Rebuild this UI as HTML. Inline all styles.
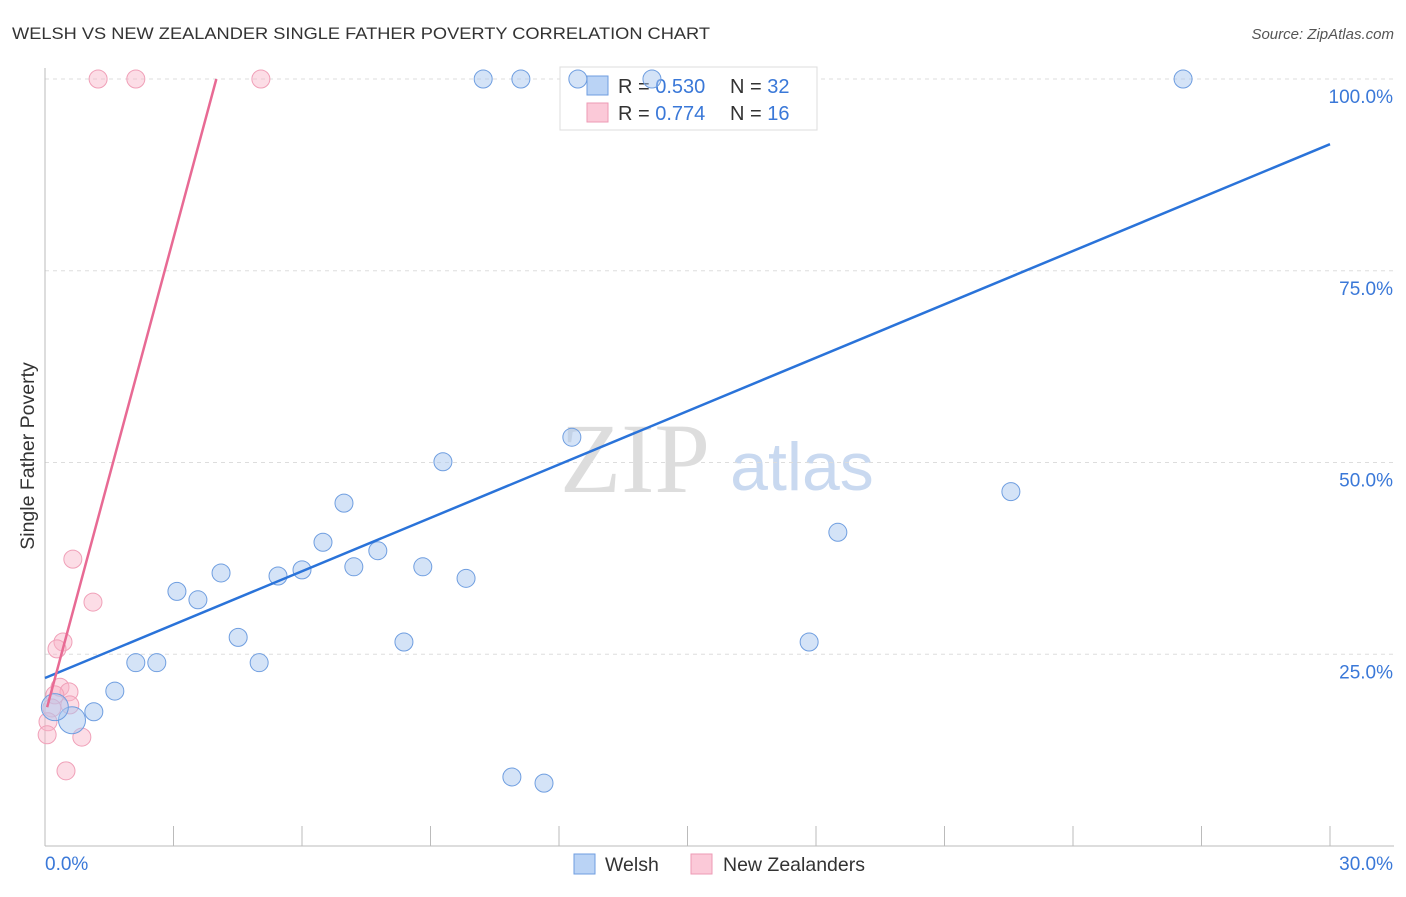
<!DOCTYPE html>
<html><head><meta charset="utf-8"><style>
body{margin:0;background:#fff;font-family:"Liberation Sans",sans-serif}
</style></head><body>
<svg id="c" width="1406" height="892" font-family="Liberation Sans, sans-serif">
<text x="12" y="39" font-size="17" fill="#333" textLength="698" lengthAdjust="spacingAndGlyphs">WELSH VS NEW ZEALANDER SINGLE FATHER POVERTY CORRELATION CHART</text>
<text x="1394" y="39" font-size="15" fill="#555" text-anchor="end" font-style="italic">Source: ZipAtlas.com</text>
<text x="635" y="492" font-size="100" fill="#ddd" text-anchor="middle" font-family="Liberation Serif, serif">ZIP</text>
<text x="802" y="490" font-size="68" fill="#c9d9f0" text-anchor="middle">atlas</text>
<text transform="translate(34,456) rotate(-90)" font-size="19.5" fill="#333" text-anchor="middle">Single Father Poverty</text>
<g id="grid"></g>
<g>
<rect x="560" y="67" width="257" height="63" fill="#fff" stroke="#ddd"/>
<rect x="587" y="76" width="21" height="19" fill="#bad3f5" stroke="#6f9ee0"/>
<rect x="587" y="103" width="21" height="19" fill="#fbc9d8" stroke="#ee9ab5"/>
<text x="618" y="93" font-size="20" fill="#333">R = <tspan fill="#3a78d8">0.530</tspan></text>
<text x="730" y="93" font-size="20" fill="#333">N = <tspan fill="#3a78d8">32</tspan></text>
<text x="618" y="120" font-size="20" fill="#333">R = <tspan fill="#3a78d8"> 0.774</tspan></text>
<text x="730" y="120" font-size="20" fill="#333">N = <tspan fill="#3a78d8"> 16</tspan></text>
</g>
<g id="marks"></g>
<g>
<rect x="574" y="854" width="21" height="20" fill="#bad3f5" stroke="#6f9ee0"/>
<text x="605" y="871" font-size="19.5" fill="#333">Welsh</text>
<rect x="691" y="854" width="21" height="20" fill="#fbc9d8" stroke="#ee9ab5"/>
<text x="723" y="871" font-size="19.5" fill="#333">New Zealanders</text>
</g>
</svg>
<script>
const yTicks=[25,50,75,100];
const xTickLabels=["0.0%","30.0%"];
const welshX=[10.23,11.11,12.44,14.17,26.57,12.30,9.29,22.55,6.98,18.51,6.49,7.77,7.21,8.82,4.11,6.00,5.44,9.83,3.08,3.57,4.51,8.38,17.84,2.12,2.61,5.00,1.63,1.14,0.63,0.23,10.90,11.65];
const welshY=[100,100,100,100,100,53.3,50.1,46.2,44.7,40.9,39.6,38.5,36.4,36.4,35.6,36.0,35.2,34.9,33.2,32.1,27.2,26.6,26.6,23.9,23.9,23.9,20.2,17.5,16.4,18.1,9.0,8.2];
const welshBig=[28,29];
const nzX=[1.24,2.12,5.04,0.65,1.12,0.42,0.28,0.35,0.56,0.23,0.58,0.16,0.07,0.86,0.05,0.49];
const nzY=[100,100,100,37.4,31.8,26.6,25.7,20.7,20.1,19.7,18.4,18.0,16.2,14.2,14.5,9.8];
const welshLine=[[0,21.9],[30,91.5]];
const nzLine=[[0.05,18.1],[4.0,100]];
const X=v=>45+v/30*1285, Y=v=>846-v/100*767;
const NS="http://www.w3.org/2000/svg";
function mk(p,t,a){const e=document.createElementNS(NS,t);for(const k in a)e.setAttribute(k,a[k]);document.getElementById(p).appendChild(e);return e;}
yTicks.forEach(t=>{
 const l=mk('grid','line',{x1:45,x2:1394,y1:Y(t),y2:Y(t),stroke:'#ddd','stroke-dasharray':'4,4'});
 
 
 const tx=mk('grid','text',{x:1393,y:Y(t)+24,'font-size':19,fill:'#3a78d8','text-anchor':'end'});tx.textContent=t.toFixed(1)+'%';
 
 
});
const ax=mk('grid','line',{x1:45,x2:45,y1:68,y2:846,stroke:'#bbb'});


const bx=mk('grid','line',{x1:45,x2:1394,y1:846,y2:846,stroke:'#bbb'});


for(let i=0;i<=10;i++){const t=mk('grid','line',{x1:X(i*3),x2:X(i*3),y1:826,y2:846,stroke:'#bbb'});
 
 }
[[0,'start',45],[1,'end',1393]].forEach(([i,a,x])=>{const t=mk('grid','text',{x:x,y:870,'font-size':19,fill:'#3a78d8','text-anchor':a});t.textContent=xTickLabels[i];
 
 });
nzX.forEach((v,i)=>{const c=mk('marks','circle',{cx:X(v),cy:Y(nzY[i]),r:9,fill:'rgba(248,180,200,0.45)',stroke:'#f0a0b8','stroke-width':1});
 
 });
welshX.forEach((v,i)=>{const c=mk('marks','circle',{cx:X(v),cy:Y(welshY[i]),r:welshBig.includes(i)?13.5:9,fill:'rgba(170,200,240,0.5)',stroke:'#6f9ee0','stroke-width':1});
 
 });
const bl=mk('marks','line',{x1:X(welshLine[0][0]),y1:Y(welshLine[0][1]),x2:X(welshLine[1][0]),y2:Y(welshLine[1][1]),stroke:'#2a73d9','stroke-width':2.5});


const pl=mk('marks','line',{x1:X(nzLine[0][0]),y1:Y(nzLine[0][1]),x2:X(nzLine[1][0]),y2:Y(nzLine[1][1]),stroke:'#e86a94','stroke-width':2.5});


</script>
</body></html>
